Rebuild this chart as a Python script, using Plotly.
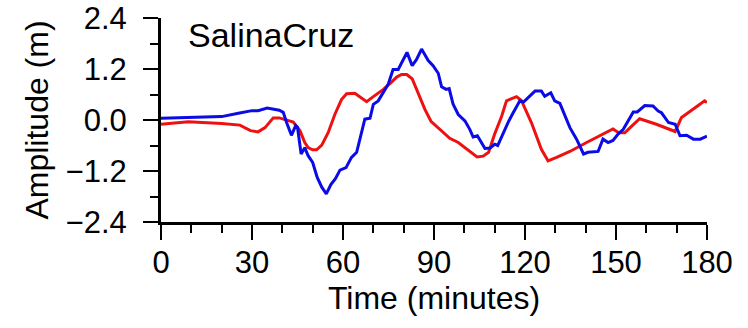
import plotly.graph_objects as go

# Tide-gauge record at Salina Cruz: observed (blue) and modelled (red) amplitudes
obs_time = [0, 9, 20, 25.5, 30, 32, 35, 39, 40.3, 41.4, 43, 44.4, 45, 46.2, 47.4,
            48.5, 50, 51.5, 53, 54.5, 56, 57.5, 59, 61, 62.8, 64.5, 66.1, 67.2,
            68.9, 70, 71.6, 73.3, 74.9, 76.5, 78.2, 79.3, 81.1, 82.8, 84.2, 85.9,
            88.1, 89.7, 91.4, 92.5, 94, 95, 96.3, 98, 100.2, 101.8, 102.9, 104.3,
            105.5, 106.8, 108.5, 110, 111, 112.8, 114.4, 116.1, 118.3, 119.5,
            121.6, 123.3, 125.4, 126.5, 128.5, 129.8, 131.5, 133.2, 134.8, 137,
            139.3, 140.8, 144.1, 145.7, 147.4, 149, 150.7, 152.4, 154, 155.7, 157,
            159.5, 162.2, 163.9, 165, 167.3, 169.5, 171.1, 173.3, 175.5, 177.8, 180]
obs_amp = [0.04, 0.06, 0.08, 0.16, 0.22, 0.22, 0.28, 0.23, 0.18, -0.06, -0.36,
           -0.13, -0.17, -0.80, -0.65, -0.84, -1.00, -1.35, -1.58, -1.74, -1.52,
           -1.38, -1.18, -1.12, -0.88, -0.76, -0.30, 0.02, 0.04, 0.37, 0.45, 0.64,
           0.84, 1.19, 1.19, 1.34, 1.59, 1.28, 1.42, 1.67, 1.40, 1.28, 1.10, 0.78,
           0.72, 0.74, 0.37, 0.13, -0.02, -0.22, -0.40, -0.37, -0.53, -0.67, -0.66,
           -0.57, -0.60, -0.30, -0.06, 0.17, 0.45, 0.42, 0.56, 0.68, 0.68, 0.56,
           0.64, 0.45, 0.39, 0.09, -0.18, -0.45, -0.80, -0.76, -0.74, -0.45, -0.53,
           -0.48, -0.33, -0.22, -0.02, 0.19, 0.19, 0.34, 0.33, 0.21, 0.17, -0.06,
           -0.10, -0.37, -0.36, -0.45, -0.45, -0.38]

sim_time = [0, 9, 20, 26, 29.5, 32, 34.3, 37, 39, 41.4, 43.6, 45.8, 47.4, 48.5,
            50, 51.3, 53, 55.1, 57.3, 59.5, 61.2, 63.9, 66.1, 67.8, 70, 73.3, 76,
            77.7, 79.3, 81, 82.8, 85.3, 87, 89, 91.9, 95.2, 98, 100.7, 104.2, 106.2,
            108, 110, 112.3, 113.9, 115.6, 117.2, 118.8, 122.1, 125.4, 127.6, 130.4,
            134.8, 140.3, 145.7, 149, 150.9, 152.9, 155.1, 157.8, 163.3, 169.5,
            171.6, 174.3, 177.1, 179.2, 180]
sim_amp = [-0.10, -0.04, -0.08, -0.12, -0.25, -0.28, -0.18, 0.05, 0.05, -0.01,
           -0.05, -0.25, -0.53, -0.65, -0.70, -0.70, -0.59, -0.30, 0.13, 0.48,
           0.62, 0.63, 0.52, 0.43, 0.55, 0.72, 0.89, 1.01, 1.07, 1.07, 0.97, 0.56,
           0.25, -0.03, -0.21, -0.43, -0.53, -0.67, -0.87, -0.85, -0.76, -0.33,
           0.09, 0.45, 0.50, 0.55, 0.46, -0.06, -0.69, -0.96, -0.88, -0.74, -0.53,
           -0.33, -0.21, -0.30, -0.30, -0.15, 0.03, -0.10, -0.27, 0.06, 0.19, 0.34,
           0.45, 0.41]

x_ticks = [0, 30, 60, 90, 120, 150, 180]
y_ticks = [-2.4, -1.2, 0.0, 1.2, 2.4]
station = "SalinaCruz"

FONT = "Liberation Sans, Arial, Helvetica, sans-serif"

fig = go.Figure()
fig.add_trace(go.Scatter(x=sim_time, y=sim_amp, mode="lines",
                         line=dict(color="#ee1111", width=3), showlegend=False))
fig.add_trace(go.Scatter(x=obs_time, y=obs_amp, mode="lines",
                         line=dict(color="#0b0be6", width=3), showlegend=False))

axis_common = dict(
    showgrid=False, zeroline=False, showline=True, linecolor="black", linewidth=3,
    ticks="outside", ticklen=15, tickwidth=2, tickcolor="black",
    tickfont=dict(family=FONT, size=31, color="black"),
)

fig.update_xaxes(
    range=[0, 180], tickvals=x_ticks,
    minor=dict(dtick=10, ticklen=8, tickwidth=2, tickcolor="black", ticks="outside"),
    title=dict(text="Time (minutes)", font=dict(family=FONT, size=32, color="black"),
               standoff=4),
    ticklabelstandoff=-4,
    **axis_common,
)
fig.update_yaxes(
    range=[-2.4, 2.4], tickvals=y_ticks, tickformat=".1f",
    minor=dict(dtick=0.6, ticklen=8, tickwidth=2, tickcolor="black", ticks="outside"),
    title=dict(text="Amplitude (m)", font=dict(family=FONT, size=32, color="black"),
               standoff=8),
    ticklabelstandoff=10,
    **axis_common,
)

fig.add_annotation(text=station, xref="paper", yref="paper", x=0.046, y=0.915,
                   xanchor="left", yanchor="middle", showarrow=False,
                   font=dict(family=FONT, size=34, color="black"))

fig.update_layout(
    width=748, height=328,
    margin=dict(l=161, r=41, t=18, b=106, autoexpand=False),
    plot_bgcolor="white", paper_bgcolor="white",
)

fig.write_html("out.html")
